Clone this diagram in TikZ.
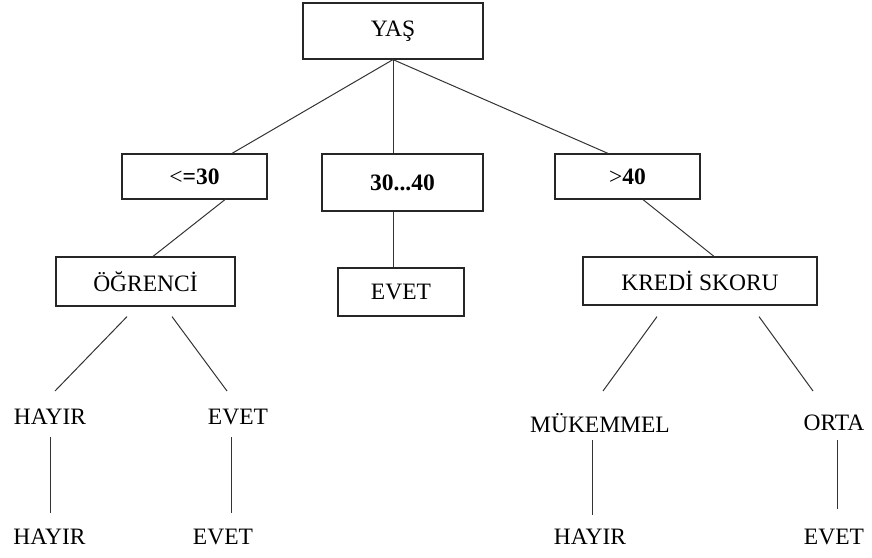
\documentclass[tikz,border=0pt]{standalone}
\usepackage{fontspec}
\setmainfont{Liberation Serif}
\usetikzlibrary{calc}
\begin{document}
\begin{tikzpicture}[x=1pt,y=-1pt,
  box/.style={draw=black!85,line width=1.2pt,rectangle,inner sep=0pt,
    font=\fontsize{23.5}{28}\selectfont},
  leaf/.style={inner sep=0pt,font=\fontsize{23.5}{28}\selectfont},
  link/.style={draw=black!80,line width=1pt}]
\useasboundingbox (0,0) rectangle (872,557);
% decision boxes
\node[box,minimum width=180pt,minimum height=56pt] (yas) at (393,31) {YAŞ};
\node[box,minimum width=145pt,minimum height=45pt] (le30) at (194.5,176.5) {<\textbf{=30}};
\node[box,minimum width=161pt,minimum height=57pt] (mid) at (402.5,182.5) {\textbf{30...40}};
\node[box,minimum width=145pt,minimum height=45pt] (gt40) at (627.5,176.5) {>\textbf{40}};
\node[box,minimum width=179pt,minimum height=49pt] (ogr) at (145.5,281.5) {ÖĞRENCİ};
\node[box,minimum width=126pt,minimum height=48pt] (evetb) at (401,292) {EVET};
\node[box,minimum width=234pt,minimum height=48pt] (kredi) at (700,281) {KREDİ SKORU};
% branch values and outcomes
\node[leaf] (hayir1) at (50,417) {HAYIR};
\node[leaf] (evet1) at (238,417) {EVET};
\node[leaf] (muk) at (600,423) {MÜKEMMEL};
\node[leaf] (orta) at (834,423) {ORTA};
\node[leaf] (hayir2) at (49.5,537) {HAYIR};
\node[leaf] (evet2) at (223,537) {EVET};
\node[leaf] (hayir3) at (590,537) {HAYIR};
\node[leaf] (evet3) at (834,537) {EVET};
% connectors
\draw[link] (yas.south) -- ([xshift=37.5pt]le30.north);
\draw[link] (yas.south) -- ([xshift=-9.5pt]mid.north);
\draw[link] (yas.south) -- ([xshift=-19.5pt]gt40.north);
\draw[link] ([xshift=30.5pt]le30.south) -- ([xshift=7.5pt]ogr.north);
\draw[link] ([xshift=-9.5pt]mid.south) -- ([xshift=-8pt]evetb.north);
\draw[link] ([xshift=15.5pt]gt40.south) -- ([xshift=14pt]kredi.north);
\draw[link] ($(ogr.south)+(-18.5,10)$) -- ($(hayir1)+(5,-26)$);
\draw[link] ($(ogr.south)+(26.5,10)$) -- ($(evet1)+(-11,-26)$);
\draw[link] ($(kredi.south)+(-43,11)$) -- ($(muk)+(3,-32)$);
\draw[link] ($(kredi.south)+(59,11)$) -- ($(orta)+(-21,-32)$);
\draw[link] ($(hayir1)+(0,20)$) -- ($(hayir2)+(0.5,-24)$);
\draw[link] ($(evet1)+(-7,20)$) -- ($(evet2)+(8,-24)$);
\draw[link] ($(muk)+(-8,17)$) -- ($(hayir3)+(2,-22)$);
\draw[link] ($(orta)+(3,17)$) -- ($(evet3)+(3,-28)$);
\end{tikzpicture}
\end{document}
